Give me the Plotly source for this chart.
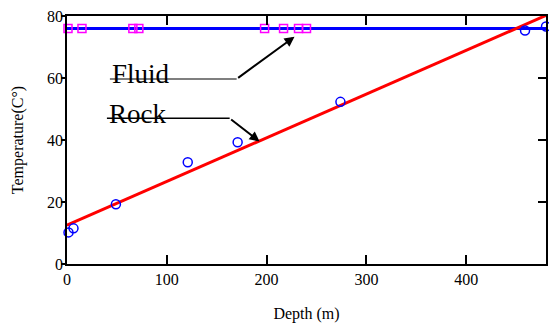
import plotly.graph_objects as go

# ---- data ----
fluid_depth = [1, 15, 66, 72, 198, 217, 232, 240]
fluid_temp = [76, 76, 76, 76, 76, 76, 76, 76]
rock_depth = [1.5, 6.5, 49, 121, 171, 274, 459, 480]
rock_temp = [10.2, 11.5, 19.3, 32.8, 39.3, 52.3, 75.3, 76.6]
fluid_fit_depth = [0, 480]
fluid_fit_temp = [76, 76]
rock_fit_depth = [0, 480]
rock_fit_temp = [12.5, 80.2]
x_ticks = [0, 100, 200, 300, 400]
y_ticks = [0, 20, 40, 60, 80]

FONT = "Liberation Serif, Times New Roman, serif"

fig = go.Figure()
fig.add_trace(go.Scatter(x=fluid_fit_depth, y=fluid_fit_temp, mode="lines",
                         line=dict(color="#0000ff", width=3), showlegend=False))
fig.add_trace(go.Scatter(x=rock_fit_depth, y=rock_fit_temp, mode="lines",
                         line=dict(color="#ff0000", width=3), showlegend=False))
fig.add_trace(go.Scatter(x=fluid_depth, y=fluid_temp, mode="markers",
                         marker=dict(symbol="square-open", size=8, color="#ff00ff",
                                     line=dict(width=1.5, color="#ff00ff")),
                         showlegend=False, cliponaxis=False))
fig.add_trace(go.Scatter(x=rock_depth, y=rock_temp, mode="markers",
                         marker=dict(symbol="circle-open", size=9, color="#0000ff",
                                     line=dict(width=1.5, color="#0000ff")),
                         showlegend=False, cliponaxis=False))

# leader lines
fig.add_shape(type="line", x0=43, x1=170, y0=59.7, y1=59.7, xref="x", yref="y",
              line=dict(color="#555555", width=1.5))
fig.add_shape(type="line", x0=40, x1=163, y0=47, y1=47, xref="x", yref="y",
              line=dict(color="#000000", width=1.5))
fig.add_annotation(x=228, y=73.3, ax=170, ay=59.7, xref="x", yref="y", axref="x", ayref="y",
                   text="", showarrow=True, arrowhead=2, arrowsize=1, arrowwidth=2,
                   arrowcolor="#000000", standoff=0)
fig.add_annotation(x=193, y=39.5, ax=163, ay=47, xref="x", yref="y", axref="x", ayref="y",
                   text="", showarrow=True, arrowhead=2, arrowsize=1, arrowwidth=2,
                   arrowcolor="#000000", standoff=0)
fig.add_annotation(x=43.5, y=61.2, xref="x", yref="y", text="Fluid", showarrow=False,
                   xanchor="left", yanchor="middle", font=dict(family=FONT, size=27, color="black"))
fig.add_annotation(x=40.5, y=48.5, xref="x", yref="y", text="Rock", showarrow=False,
                   xanchor="left", yanchor="middle", font=dict(family=FONT, size=27, color="black"))

fig.update_layout(
    width=549, height=323,
    margin=dict(l=67, r=1, t=16, b=59),
    paper_bgcolor="white", plot_bgcolor="white",
    font=dict(family=FONT, color="black"),
    xaxis=dict(range=[0, 480], tickvals=x_ticks, ticks="inside", ticklen=9, tickwidth=1.5,
               tickcolor="black", showline=True, linecolor="black", linewidth=1.5,
               mirror="ticks", showgrid=False, zeroline=False,
               tickfont=dict(family=FONT, size=16),
               title=dict(text="Depth (m)", font=dict(family=FONT, size=16), standoff=22)),
    yaxis=dict(range=[0, 80], tickvals=y_ticks, ticks="outside", ticklen=4, tickwidth=1.5,
               tickcolor="black", showline=True, linecolor="black", linewidth=1.5,
               mirror=True, showgrid=False, zeroline=False, ticklabelstandoff=-5,
               tickfont=dict(family=FONT, size=16),
               title=dict(text="Temperature(C°)", font=dict(family=FONT, size=16), standoff=19)),
    yaxis2=dict(range=[0, 80], tickvals=y_ticks, ticks="inside", ticklen=8, tickwidth=1.5,
                tickcolor="black", overlaying="y", side="right", showticklabels=False,
                showgrid=False, zeroline=False, showline=False),
)
# invisible trace to activate yaxis2
fig.add_trace(go.Scatter(x=[0], y=[0], yaxis="y2", mode="markers",
                         marker=dict(opacity=0), showlegend=False, hoverinfo="skip"))

fig.write_html("out.html", config={"displayModeBar": False},
               post_script="document.body.style.margin='0px';document.body.style.overflow='hidden';")
